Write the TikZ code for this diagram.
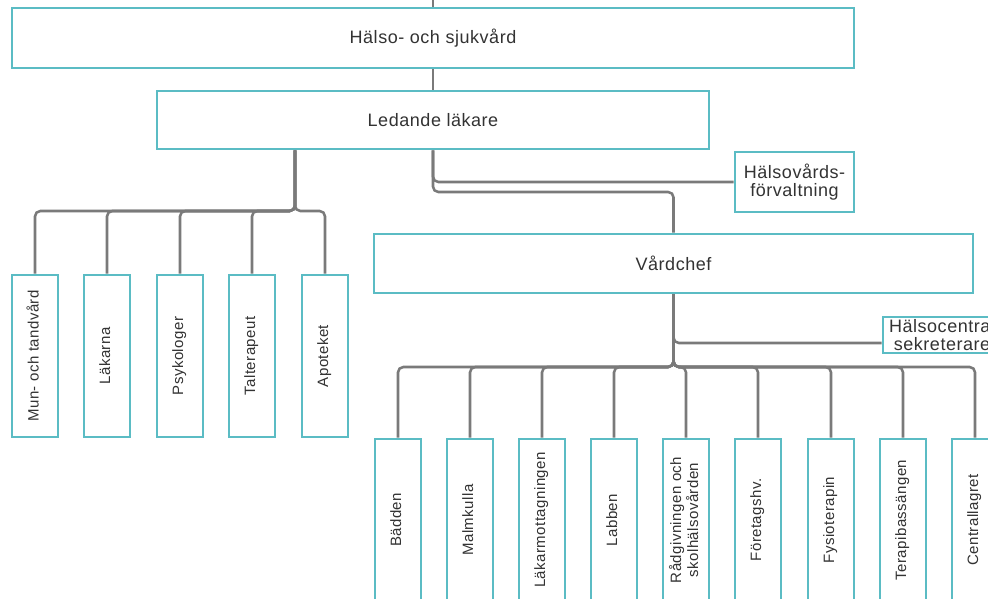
\documentclass[tikz,border=0pt]{standalone}
\usepackage{fontspec}
\setmainfont{Liberation Sans}
\newfontfamily\boxfont{Liberation Sans}[LetterSpace=3]
\usepackage{graphicx}

\definecolor{boxedge}{HTML}{5BBCC4}
\definecolor{wirecol}{HTML}{7A7A7A}
\definecolor{ink}{HTML}{333333}

\pgfdeclarelayer{shadowlayer}
\pgfsetlayers{shadowlayer,main}

% label read from bottom to top
\newcommand\uptext[1]{\rotatebox{90}{\begin{tabular}{@{}c@{}}#1\end{tabular}}}

% soft shadow below and right of a box
\newcommand\softshadow[1]{%
  \foreach \r in {0,1,2,3,4}{%
    \fill[black, opacity=0.05, rounded corners={\r*1pt+1pt}]
      ([xshift={1.5pt-\r*1pt}, yshift={-2pt-\r*1pt}]#1.south west) rectangle
      ([xshift={1.5pt+\r*1pt}, yshift={-2pt+\r*1pt}]#1.north east);}}

\tikzset{
  orgbox/.style={draw=boxedge, line width=2pt, fill=white, inner sep=0pt,
    text=ink, align=center, font=\boxfont\fontsize{13.5}{13}\selectfont},
  unitbox/.style={orgbox, minimum width=34.5pt, minimum height=121.5pt,
    font=\boxfont\fontsize{11.25}{12}\selectfont},
  wire/.style={draw=wirecol, line width=1.9pt, rounded corners=4pt}
}

\begin{document}
\begin{tikzpicture}[x=0.75pt, y=-0.75pt]
\fill[white] (0,0) rectangle (988,599);
\useasboundingbox (0,0) rectangle (988,599);

% management levels
\node[orgbox, minimum width=631.5pt, minimum height=45pt] (hs) at (433,38) {Hälso- och sjukvård};
\node[orgbox, minimum width=414pt, minimum height=43.5pt] (ll) at (433,120) {Ledande läkare};
\node[orgbox, minimum width=89.25pt, minimum height=45pt] (hvf) at (794.5,182) {Hälsovårds-\\förvaltning};
\node[orgbox, minimum width=449.25pt, minimum height=44.25pt] (vc) at (673.5,263.5) {Vårdchef};
\node[orgbox, minimum width=88.5pt, minimum height=27pt] (hcs) at (942,335) {Hälsocentral\\sekreterare};

% units under Ledande läkare
\node[unitbox] (mun) at (35,356)  {\uptext{Mun- och tandvård}};
\node[unitbox] (lak) at (107,356) {\uptext{Läkarna}};
\node[unitbox] (psy) at (180,356) {\uptext{Psykologer}};
\node[unitbox] (tal) at (252,356) {\uptext{Talterapeut}};
\node[unitbox] (apo) at (325,356) {\uptext{Apoteket}};

% units under Vårdchef
\node[unitbox] (bad) at (398,520) {\uptext{Bädden}};
\node[unitbox] (mal) at (470,520) {\uptext{Malmkulla}};
\node[unitbox] (lkm) at (542,520) {\uptext{Läkarmottagningen}};
\node[unitbox] (lab) at (614,520) {\uptext{Labben}};
\node[unitbox] (rad) at (686,520) {\uptext{Rådgivningen och\\skolhälsovården}};
\node[unitbox] (ftg) at (758,520) {\uptext{Företagshv.}};
\node[unitbox] (fys) at (831,520) {\uptext{Fysioterapin}};
\node[unitbox] (ter) at (903,520) {\uptext{Terapibassängen}};
\node[unitbox] (cen) at (975,520) {\uptext{Centrallagret}};

\begin{pgfonlayer}{shadowlayer}
  \foreach \n in {hs,ll,hvf,vc,hcs,mun,lak,psy,tal,apo,bad,mal,lkm,lab,rad,ftg,fys,ter,cen}
    {\softshadow{\n}}
\end{pgfonlayer}

% bus heights
\coordinate (up) at (433,-12);
\coordinate (hbus) at (0,192);
\coordinate (lbus) at (0,211);
\coordinate (rbus) at (0,367);

% connectors
\draw[wire] (up) -- (hs.north);
\draw[wire] (hs.south) -- (ll.north);
\foreach \c in {mun,lak,psy,tal,apo}
  \draw[wire] ([xshift=-103.5pt]ll.south) |- (lbus -| \c.north) -- (\c.north);
\draw[wire] (ll.south) |- (hvf.west);
\draw[wire] (ll.south) |- (hbus -| vc.north) -- (vc.north);
\draw[wire] (vc.south) |- ([yshift=-6pt]hcs.west);
\foreach \c in {bad,mal,lkm,lab,rad,ftg,fys,ter,cen}
  \draw[wire] (vc.south) |- (rbus -| \c.north) -- (\c.north);
\end{tikzpicture}
\end{document}
